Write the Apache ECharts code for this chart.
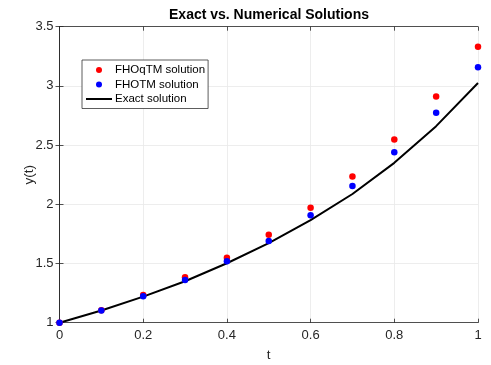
<!DOCTYPE html>
<html>
<head>
<meta charset="utf-8">
<script src="https://cdn.jsdelivr.net/npm/echarts@6/dist/echarts.min.js"></script>
<style>
html,body{margin:0;padding:0;background:#fff;}
#main{width:491px;height:365px;}
</style>
</head>
<body>
<div id="main"></div>
<script>
// 数据
var tVals = [0, 0.1, 0.2, 0.3, 0.4, 0.5, 0.6, 0.7, 0.8, 0.9, 1.0];
var fhoqtm = [1, 1.105, 1.235, 1.383, 1.548, 1.742, 1.970, 2.235, 2.548, 2.910, 3.330];
var fhotm = [1, 1.103, 1.224, 1.360, 1.518, 1.690, 1.907, 2.155, 2.439, 2.773, 3.157];
var exact = [1, 1.103, 1.220, 1.350, 1.502, 1.672, 1.866, 2.087, 2.350, 2.660, 3.025];
var xTicks = ['0', '0.2', '0.4', '0.6', '0.8', '1'];
var yTicks = ['1', '1.5', '2', '2.5', '3', '3.5'];

function pairs(xs, ys){
	var out = [];
	for(var i = 0; i < xs.length; i++){
		out.push([xs[i], ys[i]]);
	}
	return out;
}

var font = 'Liberation Sans, Arial, sans-serif';
var axisColor = '#262626';

var boxAxis = {
	axisLine: {show: true, lineStyle: {color: axisColor, width: 0.8}},
	axisTick: {show: true, inside: true, length: 4, lineStyle: {color: axisColor, width: 0.8}},
	axisLabel: {show: false},
	splitLine: {show: false}
};

var myChart = echarts.init(document.getElementById('main'), null, {renderer: 'canvas'});
var option = {
	animation: false,
	backgroundColor: '#fff',
	textStyle: {fontFamily: font},
	title: {
		text: 'Exact vs. Numerical Solutions',
		left: 264, top: 3, textAlign: 'center',
		textStyle: {fontFamily: font, fontSize: 14, fontWeight: 'bold', color: '#000'}
	},
	grid: {left: 59.5, right: 13, top: 26.7, bottom: 42.3, outerBoundsMode: 'none'},
	legend: {
		orient: 'vertical',
		left: 82, top: 60,
		padding: [3.5, 3, 3, 3],
		itemWidth: 26, itemHeight: 6, itemGap: 1.5,
		borderColor: '#333', borderWidth: 0.8, backgroundColor: '#fff',
		textStyle: {fontFamily: font, fontSize: 11.5, lineHeight: 13, color: '#000', padding: [0, 0, 0, -2]},
		data: ['FHOqTM solution', 'FHOTM solution',
			{name: 'Exact solution', itemStyle: {color: 'rgba(0,0,0,0)', borderWidth: 0}}]
	},
	xAxis: [{
		type: 'value', min: 0, max: 1, interval: 0.2,
		name: 't', nameLocation: 'middle', nameGap: 26, nameMoveOverlap: false,
		nameTextStyle: {fontFamily: font, fontSize: 13.5, color: axisColor},
		axisLine: {show: true, onZero: false, lineStyle: {color: axisColor, width: 0.8}},
		axisTick: {show: true, inside: true, length: 4, lineStyle: {color: axisColor, width: 0.8}},
		axisLabel: {fontFamily: font, fontSize: 13, color: axisColor, margin: 6,
			formatter: function(v){ return xTicks[Math.round(v / 0.2)]; }},
		splitLine: {show: true, lineStyle: {color: '#e8e8e8', width: 0.8}}
	}, Object.assign({type: 'value', min: 0, max: 1, interval: 0.2, position: 'top'}, boxAxis)],
	yAxis: [{
		type: 'value', min: 1, max: 3.5, interval: 0.5,
		name: 'y(t)', nameLocation: 'middle', nameGap: 23, nameMoveOverlap: false,
		nameTextStyle: {fontFamily: font, fontSize: 13.5, color: axisColor},
		axisLine: {show: true, onZero: false, lineStyle: {color: axisColor, width: 0.8}},
		axisTick: {show: true, inside: true, length: 4, lineStyle: {color: axisColor, width: 0.8}},
		axisLabel: {fontFamily: font, fontSize: 13, color: axisColor, margin: 6,
			formatter: function(v){ return yTicks[Math.round((v - 1) / 0.5)]; }},
		splitLine: {show: true, lineStyle: {color: '#e8e8e8', width: 0.8}}
	}, Object.assign({type: 'value', min: 1, max: 3.5, interval: 0.5, position: 'right'}, boxAxis)],
	series: [{
		name: 'Exact solution', type: 'line', data: pairs(tVals, exact),
		showSymbol: false, symbol: 'none', z: 2,
		lineStyle: {color: '#000', width: 2}, itemStyle: {color: '#000'}
	}, {
		name: 'FHOqTM solution', type: 'scatter', data: pairs(tVals, fhoqtm),
		symbol: 'circle', symbolSize: 6.5, z: 3,
		itemStyle: {color: '#ff0000', opacity: 1}
	}, {
		name: 'FHOTM solution', type: 'scatter', data: pairs(tVals, fhotm),
		symbol: 'circle', symbolSize: 6.5, z: 4,
		itemStyle: {color: '#0000ff', opacity: 1}
	}]
};
myChart.setOption(option);
</script>
</body>
</html>
